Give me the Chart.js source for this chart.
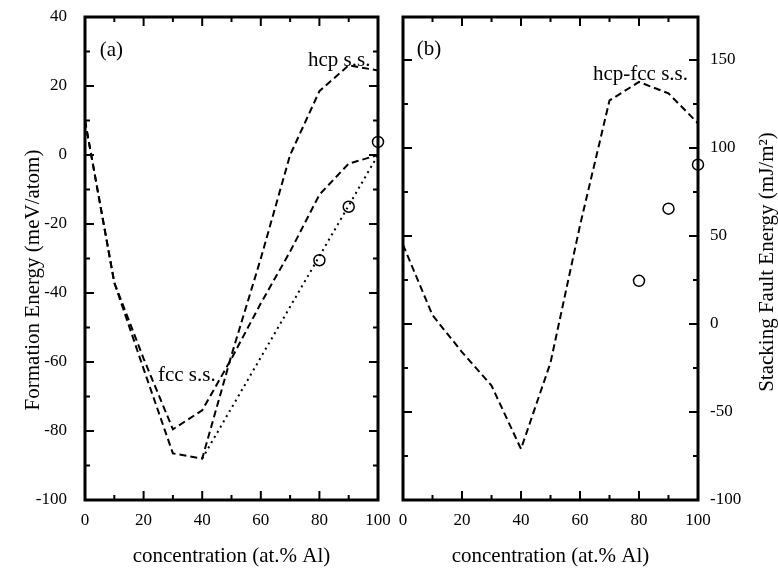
<!DOCTYPE html>
<html>
<head>
<meta charset="utf-8">
<script src="https://cdn.jsdelivr.net/npm/chart.js@4.4.0/dist/chart.umd.min.js"></script>
<style>
  body { margin: 0; background: #fff; }
  #wrap { position: relative; width: 778px; height: 570px; }
  canvas { position: absolute; top: 0; }
  #energyChart { left: 0; }
  #sfeChart { left: 390px; }
</style>
</head>
<body>
<div id="wrap">
  <canvas id="energyChart" width="390" height="570"></canvas>
  <canvas id="sfeChart" width="388" height="570"></canvas>
</div>
<script>
// Al concentration grid (at.% Al)
const conc = [0, 10, 20, 30, 40, 50, 60, 70, 80, 90, 100];

// (a) formation energy, meV/atom
const hcpEnergy = [10, -37, -62, -86.5, -88, -58, -30, 0, 18.5, 26, 24.5];
const fccEnergy = [10, -37, -59, -79.5, -74, -59, -43, -28, -11.5, -2.5, 0];
const hullConc = [40, 100];
const hullEnergy = [-88, 0];
const expConc = [80, 90, 100];
const expEnergy = [-30.5, -15, 3.8];

// (b) stacking fault energy, mJ/m^2
const sfeCurve = [45, 5, -16, -35, -71, -22, 56, 127, 137.5, 131, 114];
const sfeExpConc = [80, 90, 100];
const sfeExp = [24.5, 65.5, 90.5];

// tick labels
const xTicks = [0, 20, 40, 60, 80, 100];
const energyTicks = [-100, -80, -60, -40, -20, 0, 20, 40];
const sfeTicks = [-100, -50, 0, 50, 100, 150];

const SERIF = '"Liberation Serif", "Times New Roman", serif';
const pts = (xs, ys) => xs.map((x, i) => ({ x: x, y: ys[i] }));

const dashed = (data, dash) => ({
    data: data,
    showLine: true,
    borderColor: "#000",
    borderWidth: 2,
    borderDash: dash,
    pointRadius: 0,
    fill: false
});
const circles = (data) => ({
    data: data,
    showLine: false,
    pointStyle: "circle",
    pointRadius: 5.5,
    pointBorderWidth: 1.5,
    borderColor: "#000",
    backgroundColor: "rgba(0,0,0,0)",
    clip: false
});

// box frame, inward ticks, in-plot notes and rotated y titles
const framePlugin = {
    id: "frame",
    afterDraw(chart, args, opts) {
        const { ctx, chartArea: a, scales } = chart;
        const x = scales.x, y = scales.y;
        ctx.save();
        ctx.strokeStyle = "#000";
        ctx.lineWidth = 2;
        ctx.beginPath();
        for (let v = 0; v <= x.max + 1e-9; v += opts.xMinor) {
            const px = x.getPixelForValue(v);
            const len = Math.abs(v % opts.xMajor) < 1e-6 ? 9 : 5;
            ctx.moveTo(px, a.bottom); ctx.lineTo(px, a.bottom - len);
            ctx.moveTo(px, a.top); ctx.lineTo(px, a.top + len);
        }
        for (let v = Math.ceil(y.min / opts.yMinor) * opts.yMinor; v <= y.max + 1e-9; v += opts.yMinor) {
            const py = y.getPixelForValue(v);
            const len = Math.abs(v % opts.yMajor) < 1e-6 ? 9 : 5;
            ctx.moveTo(a.left, py); ctx.lineTo(a.left + len, py);
            ctx.moveTo(a.right, py); ctx.lineTo(a.right - len, py);
        }
        ctx.stroke();
        ctx.lineWidth = 3;
        ctx.strokeRect(a.left, a.top, a.width, a.height);

        ctx.fillStyle = "#000";
        ctx.font = "21px " + SERIF;
        ctx.textAlign = "left";
        ctx.textBaseline = "middle";
        opts.notes.forEach(n => {
            ctx.fillText(n.text, x.getPixelForValue(n.x), y.getPixelForValue(n.y));
        });

        // y title, reads bottom to top
        ctx.font = "21px " + SERIF;
        ctx.textAlign = "center";
        ctx.translate(opts.yTitle.x, opts.yTitle.y);
        ctx.rotate(-Math.PI / 2);
        ctx.fillText(opts.yTitle.text, 0, 0);
        ctx.restore();
    }
};

const xScale = {
    type: "linear",
    min: 0,
    max: 100,
    grid: { display: false, drawTicks: false },
    border: { display: false },
    ticks: { color: "#000", font: { family: SERIF, size: 17 }, padding: 10, maxRotation: 0 },
    afterBuildTicks: axis => { axis.ticks = xTicks.map(v => ({ value: v })); },
    afterFit: axis => { axis.height = 70; axis.paddingLeft = 0; axis.paddingRight = 0; },
    title: {
        display: true,
        text: "concentration (at.% Al)",
        color: "#000",
        font: { family: SERIF, size: 21 },
        padding: { top: 0, bottom: 1 }
    }
};

const energyChart = new Chart(document.getElementById("energyChart"), {
    type: "scatter",
    data: {
        datasets: [
            dashed(pts(conc, hcpEnergy), [7, 4]),
            dashed(pts(conc, fccEnergy), [7, 4]),
            dashed(pts(hullConc, hullEnergy), [2, 4]),
            circles(pts(expConc, expEnergy))
        ]
    },
    options: {
        responsive: false,
        animation: false,
        layout: { padding: { top: 17, right: 12, bottom: 0, left: 0 } },
        plugins: {
            legend: { display: false },
            tooltip: { enabled: false },
            frame: {
                xMinor: 10, xMajor: 20, yMinor: 10, yMajor: 20,
                notes: [
                    { text: "(a)", x: 5, y: 30.4 },
                    { text: "hcp s.s.", x: 76.1, y: 27.5 },
                    { text: "fcc s.s.", x: 24.9, y: -64 }
                ],
                yTitle: { text: "Formation Energy (meV/atom)", x: 33, y: 280 }
            }
        },
        scales: {
            x: xScale,
            y: {
                type: "linear",
                position: "left",
                min: -100,
                max: 40,
                grid: { display: false, drawTicks: false },
                border: { display: false },
                ticks: { color: "#000", font: { family: SERIF, size: 17 }, padding: 18 },
                afterBuildTicks: axis => { axis.ticks = energyTicks.map(v => ({ value: v })); },
                afterFit: axis => { axis.width = 85; axis.paddingTop = 0; axis.paddingBottom = 0; }
            }
        }
    },
    plugins: [framePlugin]
});

const sfeChart = new Chart(document.getElementById("sfeChart"), {
    type: "scatter",
    data: {
        datasets: [
            dashed(pts(conc, sfeCurve), [7, 4]),
            circles(pts(sfeExpConc, sfeExp))
        ]
    },
    options: {
        responsive: false,
        animation: false,
        layout: { padding: { top: 17, right: 0, bottom: 0, left: 13 } },
        plugins: {
            legend: { display: false },
            tooltip: { enabled: false },
            frame: {
                xMinor: 10, xMajor: 20, yMinor: 25, yMajor: 50,
                notes: [
                    { text: "(b)", x: 4.7, y: 155.7 },
                    { text: "hcp-fcc s.s.", x: 64.4, y: 142 }
                ],
                yTitle: { text: "Stacking Fault Energy (mJ/m\u00b2)", x: 377, y: 262 }
            }
        },
        scales: {
            x: xScale,
            y: {
                type: "linear",
                position: "right",
                min: -100,
                max: 174.4,
                grid: { display: false, drawTicks: false },
                border: { display: false },
                ticks: { color: "#000", font: { family: SERIF, size: 17 }, padding: 12 },
                afterBuildTicks: axis => { axis.ticks = sfeTicks.map(v => ({ value: v })); },
                afterFit: axis => { axis.width = 80; axis.paddingTop = 0; axis.paddingBottom = 0; }
            }
        }
    },
    plugins: [framePlugin]
});
</script>
</body>
</html>
